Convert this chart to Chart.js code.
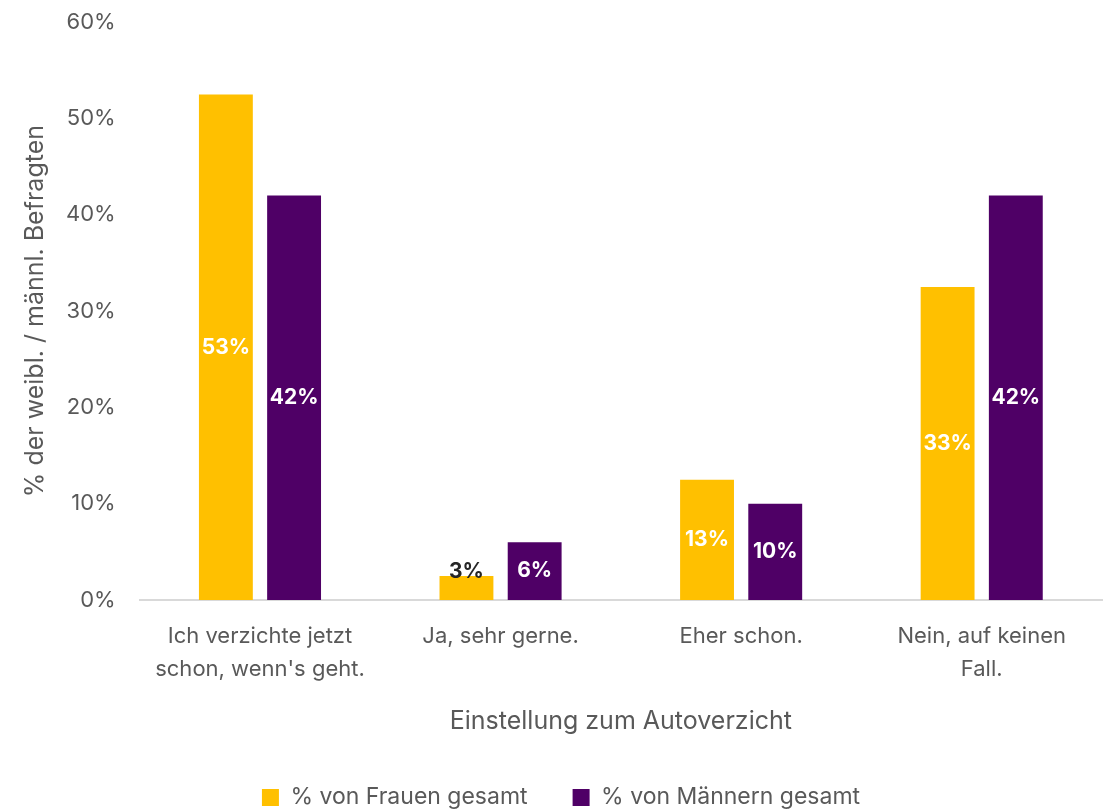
<!DOCTYPE html>
<html lang="de">
<head>
<meta charset="utf-8">
<script src="https://cdn.jsdelivr.net/npm/chart.js@4"></script>
<style>
  html, body { margin: 0; padding: 0; background: #fff; overflow: hidden; }
  #wrap { width: 1112px; height: 809px; overflow: hidden; }
  #grafica { position: relative; top: -7px; }
</style>
</head>
<body>
<div id="wrap"><canvas id="grafica" width="1112" height="816"></canvas></div>
<script>
const kategorien = [
  ["Ich verzichte jetzt", "schon, wenn's geht."],
  "Ja, sehr gerne.",
  "Eher schon.",
  ["Nein, auf keinen", "Fall."]
];
const frauen = [52.5, 2.5, 12.5, 32.5];
const maenner = [42, 6, 10, 42];
const yTicks = [0, 10, 20, 30, 40, 50, 60];

const schrift = "Inter, 'Open Sans', sans-serif";
const grau = "#595959";

// Werte mittig in die Balken schreiben
const balkenLabels = {
  id: 'balkenLabels',
  afterDatasetsDraw(chart) {
    const ctx = chart.ctx;
    ctx.save();
    ctx.font = "bold 21px " + schrift;
    ctx.textAlign = "center";
    ctx.textBaseline = "middle";
    chart.data.datasets.forEach((ds, i) => {
      chart.getDatasetMeta(i).data.forEach((bar, j) => {
        const wert = ds.data[j];
        const klein = wert < 4;
        ctx.fillStyle = klein ? "#262626" : "#ffffff";
        const y = klein ? bar.y - 4 : (bar.y + bar.base) / 2;
        ctx.fillText(Math.round(wert) + "%", bar.x, y);
      });
    });
    ctx.restore();
  }
};

new Chart(document.getElementById("grafica"), {
  type: 'bar',
  data: {
    labels: kategorien,
    datasets: [
      { label: '% von Frauen gesamt', data: frauen, backgroundColor: '#ffc000' },
      { label: '% von Männern gesamt', data: maenner, backgroundColor: '#4f0066' }
    ]
  },
  options: {
    responsive: false,
    animation: false,
    categoryPercentage: 0.567,
    barPercentage: 0.79,
    layout: { padding: { left: 20, right: 10, top: 0, bottom: -10 } },
    plugins: {
      legend: {
        position: 'bottom',
        labels: {
          boxWidth: 17, boxHeight: 17, padding: 45,
          color: grau,
          font: { family: schrift, size: 23 }
        }
      },
      tooltip: { enabled: false }
    },
    scales: {
      x: {
        grid: { display: false },
        border: { display: true, color: '#d9d9d9', width: 2 },
        ticks: { color: grau, font: { family: schrift, size: 22, lineHeight: 1.5 }, padding: 12, maxRotation: 0 },
        title: { display: true, text: 'Einstellung zum Autoverzicht', color: grau,
                 font: { family: schrift, size: 25 }, padding: { top: 8, bottom: 5 } }
      },
      y: {
        min: 0, max: 60,
        afterBuildTicks(axis) { axis.ticks = yTicks.map(v => ({ value: v })); },
        grid: { display: false },
        border: { display: false },
        ticks: { color: grau, font: { family: schrift, size: 22 }, padding: 16,
                 callback: v => v + '%' },
        title: { display: true, text: '% der weibl. / männl. Befragten', color: grau,
                 font: { family: schrift, size: 25 }, padding: { top: 0, bottom: 0 } }
      }
    }
  },
  plugins: [balkenLabels]
});
</script>
</body>
</html>
